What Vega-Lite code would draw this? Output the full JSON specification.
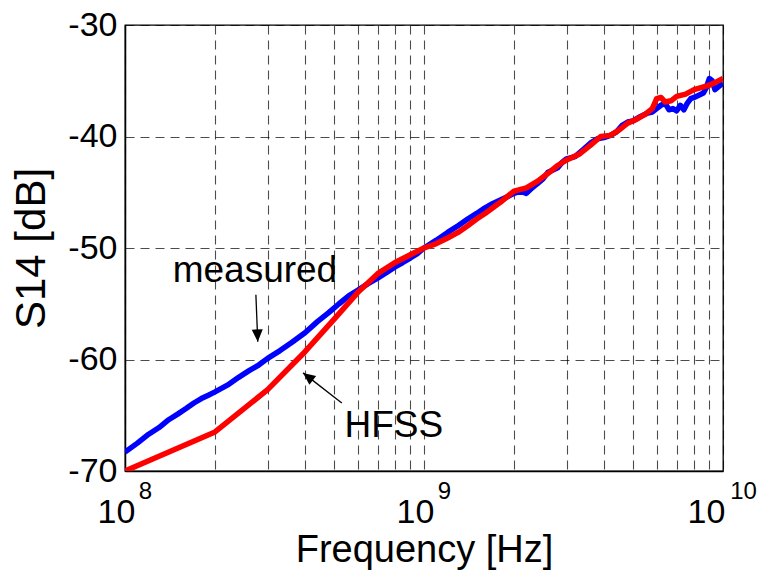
{
  "$schema": "https://vega.github.io/schema/vega-lite/v6.json",
  "width": 598,
  "height": 446,
  "autosize": {"type": "none"},
  "padding": {"left": 125, "top": 25, "right": 39, "bottom": 101},
  "background": "white",
  "config": {
    "font": "Liberation Sans",
    "view": {"stroke": "black", "strokeWidth": 1.3},
    "axis": {
      "domainColor": "black",
      "domainWidth": 1.5,
      "gridColor": "black",
      "gridOpacity": 0.7,
      "gridWidth": 1.1,
      "gridDash": [9, 6],
      "ticks": false,
      "labelColor": "black",
      "titleColor": "black",
      "labelFontWeight": "normal",
      "titleFontWeight": "normal"
    }
  },
  "resolve": {"scale": {"x": "independent"}, "axis": {"x": "independent"}},
  "datasets": {
    "measured": [
      {"f": 1e8, "db": -68.3}, {"f": 1.1e8, "db": -67.5}, {"f": 1.2e8, "db": -66.7}, {"f": 1.3e8, "db": -66.1},
      {"f": 1.4e8, "db": -65.4}, {"f": 1.5e8, "db": -64.9}, {"f": 1.6e8, "db": -64.4}, {"f": 1.7e8, "db": -63.9},
      {"f": 1.8e8, "db": -63.5}, {"f": 1.9e8, "db": -63.2}, {"f": 2.0e8, "db": -62.9}, {"f": 2.2e8, "db": -62.3},
      {"f": 2.4e8, "db": -61.6}, {"f": 2.6e8, "db": -61.0}, {"f": 2.8e8, "db": -60.5}, {"f": 3.0e8, "db": -59.9},
      {"f": 3.3e8, "db": -59.2}, {"f": 3.6e8, "db": -58.5}, {"f": 4.0e8, "db": -57.6}, {"f": 4.4e8, "db": -56.6},
      {"f": 4.8e8, "db": -55.8}, {"f": 5.2e8, "db": -55.0}, {"f": 5.6e8, "db": -54.3}, {"f": 6.0e8, "db": -53.8},
      {"f": 6.5e8, "db": -53.2}, {"f": 7.0e8, "db": -52.7}, {"f": 7.5e8, "db": -52.2}, {"f": 8.0e8, "db": -51.7},
      {"f": 8.5e8, "db": -51.3}, {"f": 9.0e8, "db": -50.9}, {"f": 9.5e8, "db": -50.5}, {"f": 1.0e9, "db": -50.0},
      {"f": 1.1e9, "db": -49.3}, {"f": 1.2e9, "db": -48.6}, {"f": 1.3e9, "db": -48.0}, {"f": 1.4e9, "db": -47.4},
      {"f": 1.5e9, "db": -46.9}, {"f": 1.6e9, "db": -46.4}, {"f": 1.7e9, "db": -46.0}, {"f": 1.8e9, "db": -45.7},
      {"f": 1.9e9, "db": -45.4}, {"f": 2.0e9, "db": -45.1}, {"f": 2.1e9, "db": -44.9}, {"f": 2.2e9, "db": -45.1},
      {"f": 2.3e9, "db": -44.6}, {"f": 2.4e9, "db": -44.2}, {"f": 2.5e9, "db": -43.8}, {"f": 2.6e9, "db": -43.2},
      {"f": 2.7e9, "db": -43.0}, {"f": 2.8e9, "db": -42.8}, {"f": 2.9e9, "db": -42.3}, {"f": 3.0e9, "db": -42.0},
      {"f": 3.2e9, "db": -41.8}, {"f": 3.4e9, "db": -41.2}, {"f": 3.6e9, "db": -40.6}, {"f": 3.8e9, "db": -40.2},
      {"f": 4.0e9, "db": -40.1}, {"f": 4.2e9, "db": -39.9}, {"f": 4.4e9, "db": -39.6}, {"f": 4.6e9, "db": -39.0},
      {"f": 4.8e9, "db": -38.7}, {"f": 5.0e9, "db": -38.6}, {"f": 5.3e9, "db": -38.2}, {"f": 5.6e9, "db": -37.9},
      {"f": 5.8e9, "db": -37.8}, {"f": 6.0e9, "db": -37.5}, {"f": 6.2e9, "db": -37.2}, {"f": 6.4e9, "db": -37.0},
      {"f": 6.6e9, "db": -37.6}, {"f": 6.8e9, "db": -37.5}, {"f": 7.0e9, "db": -37.7}, {"f": 7.2e9, "db": -37.2},
      {"f": 7.4e9, "db": -37.6}, {"f": 7.6e9, "db": -37.0}, {"f": 7.8e9, "db": -36.6}, {"f": 8.0e9, "db": -36.5},
      {"f": 8.3e9, "db": -36.3}, {"f": 8.6e9, "db": -36.1}, {"f": 8.8e9, "db": -35.6}, {"f": 9.0e9, "db": -34.8},
      {"f": 9.2e9, "db": -35.0}, {"f": 9.4e9, "db": -35.8}, {"f": 9.6e9, "db": -35.6}, {"f": 9.8e9, "db": -35.4},
      {"f": 1.0e10, "db": -35.2}
    ],
    "hfss": [
      {"f": 1e8, "db": -70.0}, {"f": 2e8, "db": -66.5}, {"f": 3e8, "db": -62.7}, {"f": 4e8, "db": -59.3},
      {"f": 5e8, "db": -56.4}, {"f": 6e8, "db": -54.0}, {"f": 7e8, "db": -52.3}, {"f": 8e8, "db": -51.3},
      {"f": 9e8, "db": -50.6}, {"f": 1e9, "db": -50.0}, {"f": 1.1e9, "db": -49.6}, {"f": 1.2e9, "db": -49.1},
      {"f": 1.3e9, "db": -48.6}, {"f": 1.4e9, "db": -48.0}, {"f": 1.5e9, "db": -47.4}, {"f": 1.6e9, "db": -46.9},
      {"f": 1.8e9, "db": -45.9}, {"f": 2.0e9, "db": -44.9}, {"f": 2.2e9, "db": -44.6}, {"f": 2.4e9, "db": -44.0},
      {"f": 2.6e9, "db": -43.3}, {"f": 2.8e9, "db": -42.6}, {"f": 3.0e9, "db": -42.1}, {"f": 3.3e9, "db": -41.6},
      {"f": 3.6e9, "db": -40.8}, {"f": 3.9e9, "db": -40.0}, {"f": 4.2e9, "db": -39.9}, {"f": 4.5e9, "db": -39.4},
      {"f": 4.8e9, "db": -38.8}, {"f": 5.1e9, "db": -38.5}, {"f": 5.5e9, "db": -38.0}, {"f": 5.8e9, "db": -37.5},
      {"f": 6.0e9, "db": -36.6}, {"f": 6.2e9, "db": -36.5}, {"f": 6.4e9, "db": -36.9}, {"f": 6.7e9, "db": -36.8},
      {"f": 7.0e9, "db": -36.4}, {"f": 7.5e9, "db": -36.2}, {"f": 8.0e9, "db": -35.8}, {"f": 8.5e9, "db": -35.6},
      {"f": 9.0e9, "db": -35.4}, {"f": 9.5e9, "db": -35.1}, {"f": 1.0e10, "db": -34.8}
    ],
    "arrows": [
      {"name": "measured", "f": 2.74e8, "db": -54.2, "f2": 2.78e8, "db2": -58.4},
      {"name": "HFSS", "f": 5.31e8, "db": -63.9, "f2": 3.94e8, "db2": -61.2}
    ],
    "labels": [
      {"f": 2.72e8, "db": -53.05, "label": "measured"},
      {"f": 7.93e8, "db": -66.95, "label": "HFSS"}
    ],
    "decades": [
      {"f": 1e8, "db": -70},
      {"f": 1e9, "db": -70},
      {"f": 1e10, "db": -70}
    ]
  },
  "layer": [
    {
      "encoding": {
        "x": {
          "field": "f",
          "type": "quantitative",
          "scale": {"type": "log", "domain": [1e8, 1e10], "nice": false},
          "axis": {
            "orient": "bottom",
            "title": "Frequency [Hz]",
            "titleFontSize": 38,
            "titlePadding": 2,
            "labelFontSize": 34,
            "labelBaseline": "alphabetic",
            "labelPadding": 51,
            "labelFlush": false,
            "labelOverlap": false,
            "labelOffset": {"condition": {"test": "datum.value > 5e9", "value": -17}, "value": -9},
            "values": [1e8, 2e8, 3e8, 4e8, 5e8, 6e8, 7e8, 8e8, 9e8, 1e9, 2e9, 3e9, 4e9, 5e9, 6e9, 7e9, 8e9, 9e9, 1e10],
            "labelExpr": "(datum.value == 1e8 || datum.value == 1e9 || datum.value == 1e10) ? '10' : ''"
          }
        },
        "y": {
          "field": "db",
          "type": "quantitative",
          "scale": {"domain": [-70, -30], "nice": false},
          "axis": {
            "title": "S14 [dB]",
            "titleFontSize": 42,
            "titlePadding": 14,
            "labelFontSize": 34,
            "labelPadding": 8,
            "values": [-70, -60, -50, -40, -30],
            "labelExpr": "'-' + abs(datum.value)"
          }
        }
      },
      "layer": [
        {
          "data": {"name": "measured"},
          "mark": {"type": "line", "color": "#0000ff", "strokeWidth": 5.5, "strokeJoin": "round", "clip": true}
        },
        {
          "data": {"name": "hfss"},
          "mark": {"type": "line", "color": "#ff0000", "strokeWidth": 5.5, "strokeJoin": "round", "clip": true}
        },
        {
          "data": {"name": "arrows"},
          "mark": {"type": "rule", "color": "black", "strokeWidth": 1.3},
          "encoding": {
            "x2": {"field": "f2"},
            "y2": {"field": "db2"}
          }
        },
        {
          "data": {"name": "arrows"},
          "transform": [{"filter": "datum.name == 'measured'"}],
          "mark": {"type": "point", "shape": "M0,0L-0.45,-1L0.45,-1Z", "filled": true, "color": "black", "opacity": 1, "size": 600, "angle": 357.6},
          "encoding": {
            "x": {"field": "f2", "type": "quantitative"},
            "y": {"field": "db2", "type": "quantitative"}
          }
        },
        {
          "data": {"name": "arrows"},
          "transform": [{"filter": "datum.name == 'HFSS'"}],
          "mark": {"type": "point", "shape": "M0,0L-0.45,-1L0.45,-1Z", "filled": true, "color": "black", "opacity": 1, "size": 600, "angle": 127.6},
          "encoding": {
            "x": {"field": "f2", "type": "quantitative"},
            "y": {"field": "db2", "type": "quantitative"}
          }
        },
        {
          "data": {"name": "labels"},
          "mark": {"type": "text", "fontSize": 37, "align": "center", "baseline": "alphabetic", "color": "black"},
          "encoding": {
            "text": {"field": "label"}
          }
        }
      ]
    },
    {
      "data": {"name": "decades"},
      "mark": {"type": "point", "opacity": 0},
      "encoding": {
        "x": {
          "field": "f",
          "type": "quantitative",
          "scale": {"type": "log", "domain": [1e8, 1e10], "nice": false},
          "axis": {
            "orient": "bottom",
            "title": null,
            "domain": false,
            "grid": false,
            "ticks": false,
            "labelFontSize": 24,
            "labelBaseline": "alphabetic",
            "labelPadding": 27,
            "labelOffset": 20,
            "labelFlush": false,
            "labelOverlap": false,
            "values": [1e8, 1e9, 1e10],
            "labelExpr": "datum.value == 1e8 ? '8' : datum.value == 1e9 ? '9' : '10'"
          }
        },
        "y": {"field": "db", "type": "quantitative"}
      }
    }
  ]
}
